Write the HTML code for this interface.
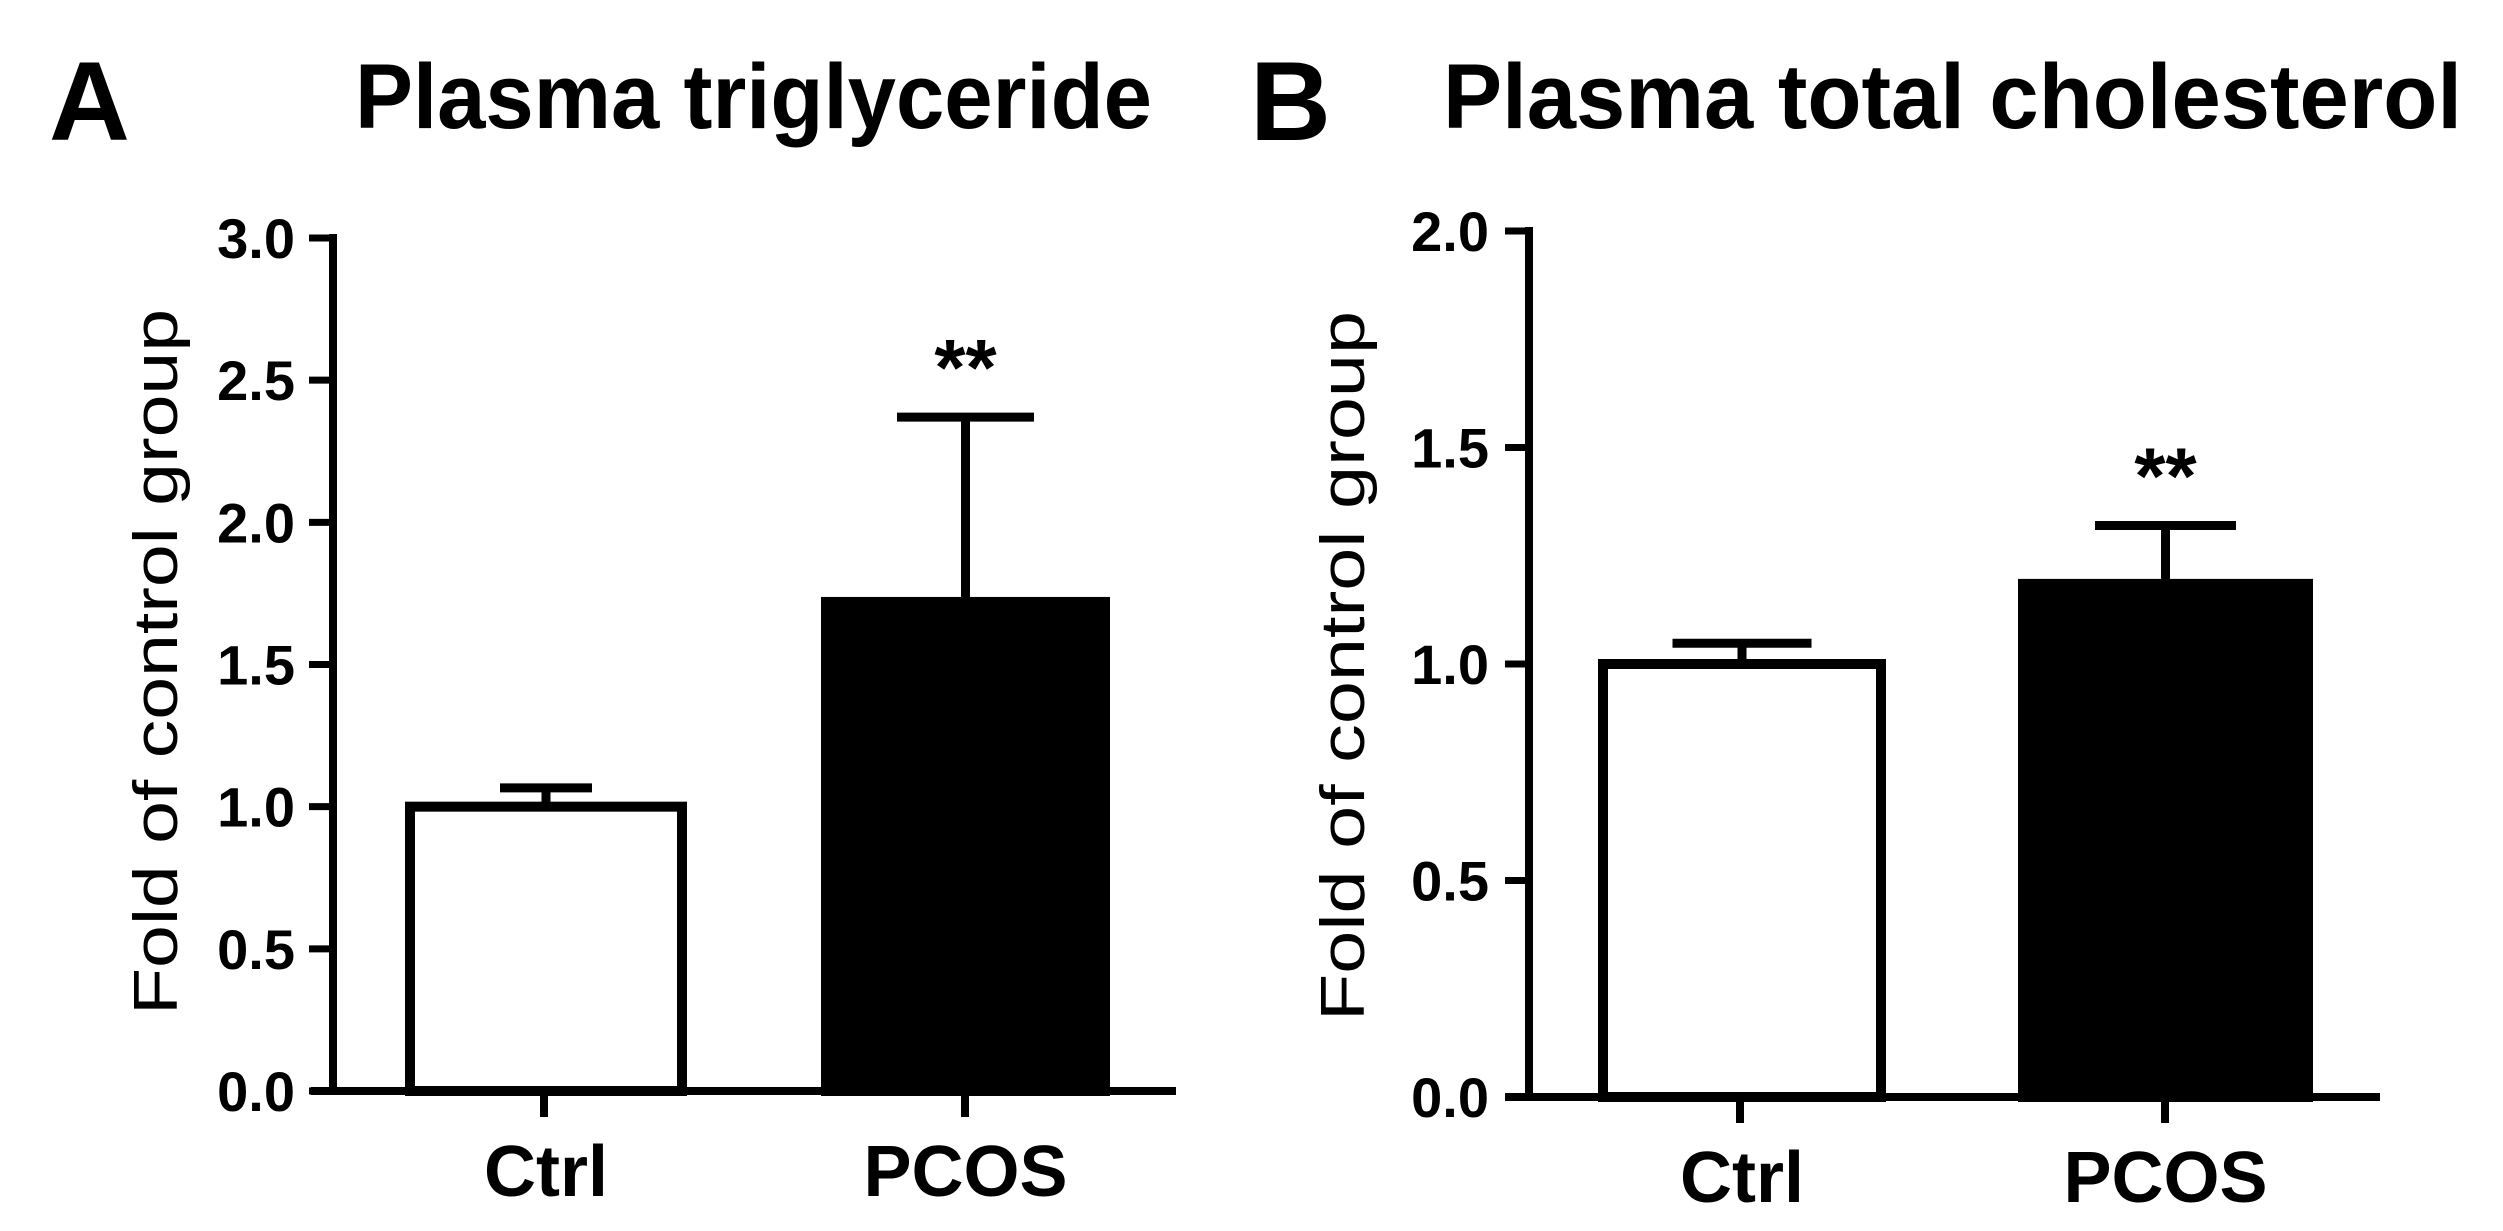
<!DOCTYPE html>
<html><head><meta charset="utf-8"><style>
html,body{margin:0;padding:0;background:#fff;}
svg{display:block;font-family:"Liberation Sans",Arial,sans-serif;}
</style></head><body>
<svg id="chart" width="2503" height="1231" viewBox="0 0 2503 1231"></svg>
<script>
const categories = ["Ctrl", "PCOS"];
const tgMeans = [1.0, 1.72];
const tgErr = [0.066, 0.65];
const tgTicks = ["0.0", "0.5", "1.0", "1.5", "2.0", "2.5", "3.0"];
const tcMeans = [1.0, 1.185];
const tcErr = [0.048, 0.135];
const tcTicks = ["0.0", "0.5", "1.0", "1.5", "2.0"];
const fills = ["#fff", "#000"];
const sigLabels = ["", "**"];

const svg = document.getElementById('chart');
const NS = 'http://www.w3.org/2000/svg';
function mk(tag, attrs, parent) {
  const e = document.createElementNS(NS, tag);
  for (const k in attrs) e.setAttribute(k, attrs[k]);
  (parent || svg).appendChild(e);
  return e;
}

const panels = [
  {letter:"A", lx:49, title:"Plasma triglyceride", tx:355, tw:797, means:tgMeans, err:tgErr, ticks:tgTicks, ymax:3.0,
   axX:333, y0:1091, yTop:238, xStart:311, xEnd:1176, bx:[405,821], bw:[282,289], capW:[92,137], tickX:[544,965],
   tickR:295, ylabX:155, ylabY:662, ylabLen:706, name:"triglyceride"},
  {letter:"B", lx:1250, title:"Plasma total cholesterol", tx:1443, tw:1019, means:tcMeans, err:tcErr, ticks:tcTicks, ymax:2.0,
   axX:1529, y0:1097, yTop:231, xStart:1505, xEnd:2380, bx:[1598,2018], bw:[288,295], capW:[139,141], tickX:[1740,2165],
   tickR:1489, ylabX:1342, ylabY:666, ylabLen:710, name:"cholesterol"}
];

panels.forEach(p => {
  const g = mk('g', {});
  
  
  const yS = v => p.y0 - (v / p.ymax) * (p.y0 - p.yTop);

  let t = mk('text', {x:p.lx, y:140, 'font-size':112, 'font-weight':'bold'}, g);
  t.textContent = p.letter;
  
  

  t = mk('text', {x:p.tx, y:128, 'font-size':92, 'font-weight':'bold', textLength:p.tw, lengthAdjust:'spacingAndGlyphs'}, g);
  t.textContent = p.title;
  
  

  t = mk('text', {x:0, y:0, 'font-size':62, 'text-anchor':'middle', textLength:p.ylabLen, lengthAdjust:'spacingAndGlyphs',
    transform:`translate(${p.ylabX + 22},${p.ylabY}) rotate(-90)`}, g);
  t.textContent = 'Fold of control group';
  
  

  // bars
  p.means.forEach((m, i) => {
    const top = yS(m);
    const r = mk('rect', {x:p.bx[i] + 5, y:top, width:p.bw[i] - 10, height:p.y0 - top, fill:fills[i], stroke:'#000', 'stroke-width':10}, g);
    
    
    const cx = p.bx[i] + p.bw[i] / 2;
    const eTop = yS(m + p.err[i]);
    const eb = mk('path', {d:`M${cx},${top} V${eTop} M${cx - p.capW[i]/2},${eTop} H${cx + p.capW[i]/2}`, stroke:'#000', 'stroke-width':9, fill:'none'}, g);
    
    
    if (sigLabels[i]) {
      const s = mk('text', {x:cx, y:eTop - 22, 'font-size':80, 'font-weight':'bold', 'text-anchor':'middle'}, g);
      s.textContent = sigLabels[i];
      
      
    }
    const xl = mk('text', {x:cx, y:p.y0 + 105, 'font-size':72, 'font-weight':'bold', 'text-anchor':'middle'}, g);
    xl.textContent = categories[i];
    
    
    const tk = mk('line', {x1:p.tickX[i], x2:p.tickX[i], y1:p.y0, y2:p.y0 + 26, stroke:'#000', 'stroke-width':8}, g);
    
    
  });

  // axes
  const ya = mk('line', {x1:p.axX, x2:p.axX, y1:p.yTop - 4, y2:p.y0 + 4, stroke:'#000', 'stroke-width':8}, g);
  
  
  const xa = mk('line', {x1:p.xStart, x2:p.xEnd, y1:p.y0, y2:p.y0, stroke:'#000', 'stroke-width':8}, g);
  
  

  p.ticks.forEach(lbl => {
    const y = yS(parseFloat(lbl));
    const l = mk('line', {x1:p.axX - 24, x2:p.axX, y1:y, y2:y, stroke:'#000', 'stroke-width':7}, g);
    
    
    const tl = mk('text', {x:p.tickR, y:y + 20, 'font-size':56, 'font-weight':'bold', 'text-anchor':'end'}, g);
    tl.textContent = lbl;
    
    
  });
});
</script>
</body></html>
